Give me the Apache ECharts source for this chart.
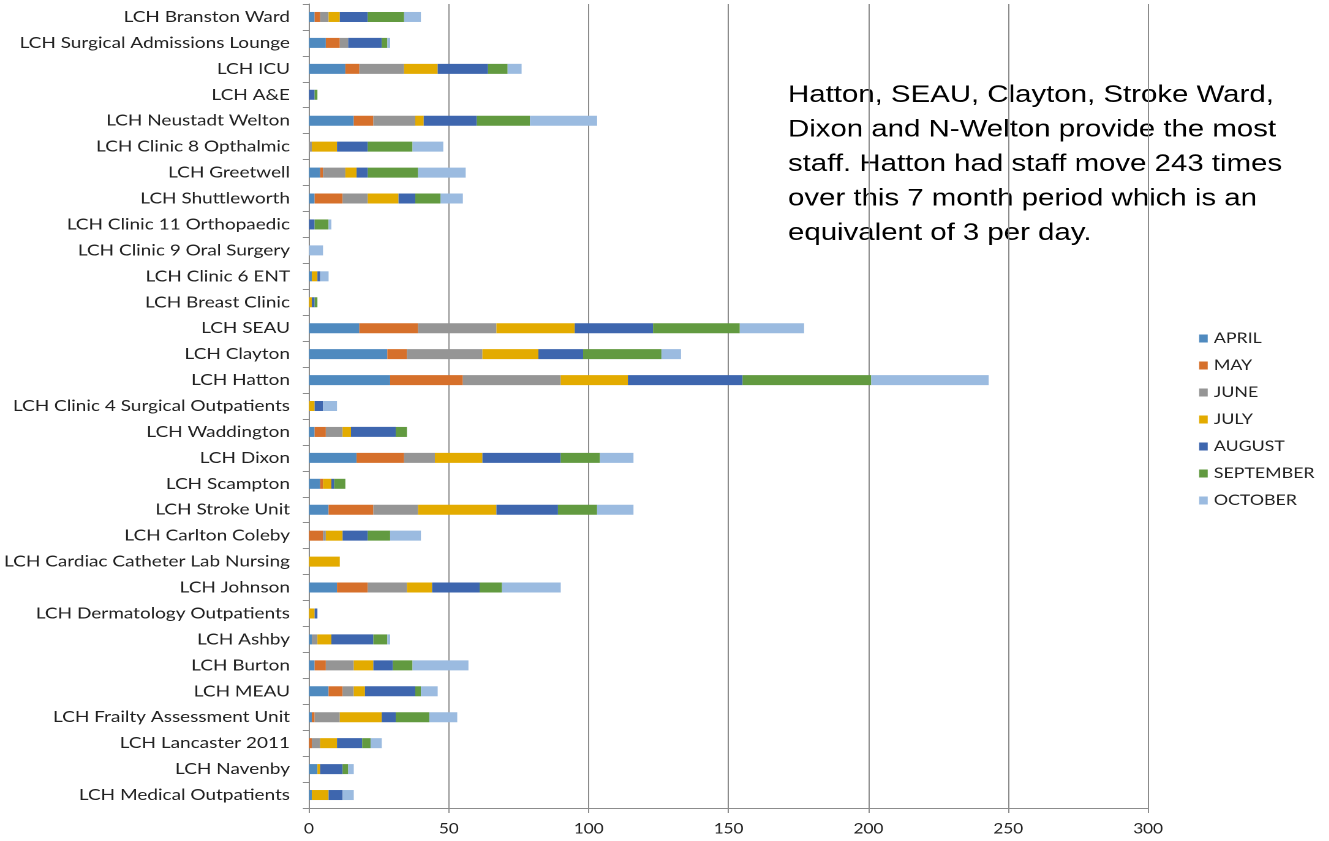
<!DOCTYPE html>
<html>
<head>
<meta charset="utf-8">
<script src="https://cdn.jsdelivr.net/npm/echarts@6/dist/echarts.min.js"></script>
<style>
  html, body { margin: 0; padding: 0; background: #fff; overflow: hidden; }
  #wrap { width: 1329px; height: 841px; overflow: hidden; }
  #chart { height: 841px; transform-origin: 0 0; }
</style>
</head>
<body>
<div id="wrap"><div id="chart"></div></div>
<script>
// Wards, listed top to bottom
const wards = [
  'LCH Branston Ward', 'LCH Surgical Admissions Lounge', 'LCH ICU', 'LCH A&E',
  'LCH Neustadt Welton', 'LCH Clinic 8 Opthalmic', 'LCH Greetwell', 'LCH Shuttleworth',
  'LCH Clinic 11 Orthopaedic', 'LCH Clinic 9 Oral Surgery', 'LCH Clinic 6 ENT',
  'LCH Breast Clinic', 'LCH SEAU', 'LCH Clayton', 'LCH Hatton',
  'LCH Clinic 4 Surgical Outpatients', 'LCH Waddington', 'LCH Dixon', 'LCH Scampton',
  'LCH Stroke Unit', 'LCH Carlton Coleby', 'LCH Cardiac Catheter Lab Nursing',
  'LCH Johnson', 'LCH Dermatology Outpatients', 'LCH Ashby', 'LCH Burton', 'LCH MEAU',
  'LCH Frailty Assessment Unit', 'LCH Lancaster 2011', 'LCH Navenby',
  'LCH Medical Outpatients'
];

const months = ['APRIL', 'MAY', 'JUNE', 'JULY', 'AUGUST', 'SEPTEMBER', 'OCTOBER'];

// Staff moves per ward and month (same order as wards)
const april     = [2, 6, 13, 0, 16, 0, 4, 2, 0, 0, 1, 0, 18, 28, 29, 0, 2, 17, 4, 7, 0, 0, 10, 0, 1, 2, 7, 1, 0, 3, 1];
const may       = [2, 5, 5, 0, 7, 0, 1, 10, 0, 0, 0, 0, 21, 7, 26, 0, 4, 17, 1, 16, 5, 0, 11, 0, 0, 4, 5, 1, 1, 0, 0];
const june      = [3, 3, 16, 0, 15, 1, 8, 9, 0, 0, 0, 0, 28, 27, 35, 0, 6, 11, 0, 16, 1, 0, 14, 0, 2, 10, 4, 9, 3, 0, 0];
const july      = [4, 0, 12, 0, 3, 9, 4, 11, 0, 0, 2, 1, 28, 20, 24, 2, 3, 17, 3, 28, 6, 11, 9, 2, 5, 7, 4, 15, 6, 1, 6];
const august    = [10, 12, 18, 2, 19, 11, 4, 6, 2, 0, 1, 1, 28, 16, 41, 3, 16, 28, 1, 22, 9, 0, 17, 1, 15, 7, 18, 5, 9, 8, 5];
const september = [13, 2, 7, 1, 19, 16, 18, 9, 5, 0, 0, 1, 31, 28, 46, 0, 4, 14, 4, 14, 8, 0, 8, 0, 5, 7, 2, 12, 3, 2, 0];
const october   = [6, 1, 5, 0, 24, 11, 17, 8, 1, 5, 3, 0, 23, 7, 42, 5, 0, 12, 0, 13, 11, 0, 21, 0, 1, 20, 6, 10, 4, 2, 4];

const monthValues = [april, may, june, july, august, september, october];
const monthColors = ['#4f8abf', '#d6702b', '#959595', '#e3ab00', '#3e66ae', '#629a40', '#9bbbe0'];

// The slide is drawn narrow and stretched sideways to fill the page width
const STRETCH = 1.225;
const PAGE_W = 1329;
const px = v => v / STRETCH;

const el = document.getElementById('chart');
el.style.width = (PAGE_W / STRETCH) + 'px';
el.style.transform = 'scaleX(' + STRETCH + ')';

const labelFont = 'Lato';

const chart = echarts.init(el, null, { renderer: 'canvas', devicePixelRatio: 2 });

chart.setOption({
  animation: false,
  backgroundColor: '#ffffff',
  color: monthColors,
  grid: { left: px(309), right: px(PAGE_W - 1148), top: 4, bottom: 33, containLabel: false },
  legend: {
    orient: 'vertical',
    left: px(1193),
    top: 326,
    itemWidth: 7,
    itemHeight: 8,
    itemGap: 12,
    icon: 'rect',
    data: months,
    textStyle: { fontFamily: labelFont, fontSize: 14.5, color: '#222', lineHeight: 14 }
  },
  xAxis: {
    type: 'value',
    min: 0,
    max: 300,
    interval: 50,
    axisLine: { show: true, lineStyle: { color: '#8c8c8c', width: 1 } },
    axisTick: { show: true, length: 5, lineStyle: { color: '#8c8c8c' } },
    splitLine: { show: true, lineStyle: { color: '#8c8c8c', width: 1 } },
    axisLabel: { fontFamily: labelFont, fontSize: 14, color: '#222', margin: 14 }
  },
  yAxis: {
    type: 'category',
    inverse: true,
    data: wards,
    axisLine: { show: true, lineStyle: { color: '#8c8c8c', width: 1 } },
    axisTick: { show: true, length: 5, lineStyle: { color: '#8c8c8c' } },
    axisLabel: { fontFamily: labelFont, fontSize: 15.5, color: '#222', margin: px(19) }
  },
  series: months.map((m, i) => ({
    name: m,
    type: 'bar',
    stack: 'moves',
    barWidth: 10,
    data: monthValues[i],
    itemStyle: { color: monthColors[i] }
  })),
  graphic: [{
    type: 'text',
    left: px(788),
    top: 78,
    style: {
      text: 'Hatton, SEAU, Clayton, Stroke Ward,\nDixon and N-Welton provide the most\nstaff. Hatton had staff move 243 times\nover this 7 month period which is an\nequivalent of 3 per day.',
      fontFamily: 'Liberation Sans',
      fontSize: 24,
      lineHeight: 34.5,
      fill: '#000'
    }
  }]
});
</script>
</body>
</html>
